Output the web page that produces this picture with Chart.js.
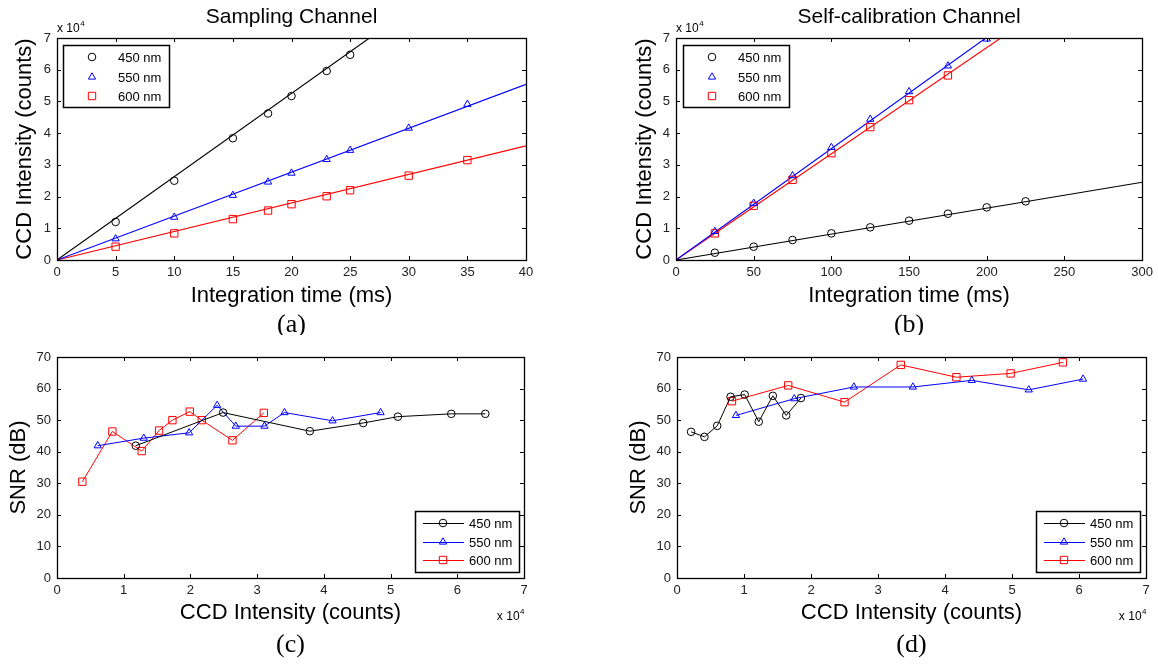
<!DOCTYPE html>
<html>
<head>
<meta charset="utf-8">
<script src="https://cdn.jsdelivr.net/npm/chart.js@4.4.1/dist/chart.umd.min.js"></script>
<style>
  body { margin: 0; background: #fff; width: 1158px; height: 664px; position: relative; overflow: hidden; }
  canvas { position: absolute; }
</style>
</head>
<body>
<canvas id="chartA" width="579" height="335" style="left:0;top:0"></canvas>
<canvas id="chartB" width="579" height="335" style="left:579px;top:0"></canvas>
<canvas id="chartC" width="579" height="329" style="left:0;top:335px"></canvas>
<canvas id="chartD" width="579" height="329" style="left:579px;top:335px"></canvas>
<script>
// ---- data (counts in units of 1e4, as on the axes) ----
var seriesNames = ['450 nm', '550 nm', '600 nm'];

// (a) Sampling channel: integration time (ms) vs CCD intensity
var timeA450 = [5, 10, 15, 18, 20, 23, 25];
var countsA450 = [1.2, 2.5, 3.84, 4.62, 5.17, 5.96, 6.47];
var timeA = [5, 10, 15, 18, 20, 23, 25, 30, 35];
var countsA550 = [0.67, 1.35, 2.04, 2.46, 2.74, 3.17, 3.46, 4.16, 4.91];
var countsA600 = [0.42, 0.84, 1.29, 1.56, 1.76, 2.01, 2.2, 2.66, 3.15];
var fitTimeA = [[0, 26.65], [0, 40], [0, 40]];
var fitCountsA = [[0, 7], [0, 5.54], [0, 3.6]];

// (b) Self-calibration channel
var timeB450 = [25, 50, 75, 100, 125, 150, 175, 200, 225];
var countsB450 = [0.23, 0.42, 0.63, 0.84, 1.03, 1.24, 1.46, 1.66, 1.85];
var timeB550 = [25, 50, 75, 100, 125, 150, 175, 200];
var countsB550 = [0.9, 1.79, 2.66, 3.55, 4.44, 5.31, 6.12, 6.97];
var timeB600 = [25, 50, 75, 100, 125, 150, 175];
var countsB600 = [0.84, 1.71, 2.53, 3.37, 4.19, 5.04, 5.82];
var fitTimeB = [[0, 300], [0, 199.4], [0, 209]];
var fitCountsB = [[0, 2.45], [0, 7], [0, 7]];

// (c) SNR vs intensity, sampling channel
var intC450 = [1.18, 2.49, 3.79, 4.59, 5.11, 5.91, 6.42];
var snrC450 = [41.9, 52.4, 46.5, 49.1, 51.1, 52.0, 52.0];
var intC550 = [0.61, 1.30, 1.98, 2.40, 2.68, 3.11, 3.41, 4.13, 4.85];
var snrC550 = [41.9, 44.3, 46.0, 54.7, 48.1, 48.1, 52.4, 49.8, 52.4];
var intC600 = [0.38, 0.83, 1.27, 1.53, 1.73, 1.99, 2.17, 2.63, 3.10];
var snrC600 = [30.5, 46.4, 40.2, 46.7, 50.0, 52.7, 50.0, 43.6, 52.3];

// (d) SNR vs intensity, self-calibration channel
var intD450 = [0.21, 0.41, 0.60, 0.80, 1.01, 1.22, 1.43, 1.63, 1.85];
var snrD450 = [46.3, 44.7, 48.2, 57.4, 58.1, 49.5, 57.7, 51.5, 57.0];
var intD550 = [0.88, 1.75, 2.64, 3.52, 4.40, 5.25, 6.06];
var snrD550 = [51.5, 56.8, 60.5, 60.5, 62.6, 59.6, 63.0];
var intD600 = [0.82, 1.66, 2.50, 3.34, 4.17, 4.98, 5.76];
var snrD600 = [56.0, 61.0, 55.7, 67.5, 63.6, 64.8, 68.3];

// ---- styling ----
var colors = ['#000000', '#0000ff', '#ff0000'];
var shapes = ['circle', 'triangle', 'rect'];
var radii = [3.8, 4.2, 5.2];
var sans = 'Arial, "Liberation Sans", sans-serif';

function zip(xs, ys) {
    return xs.map(function (x, i) { return { x: x, y: ys[i] }; });
}

function markerSet(i, xs, ys, withLine) {
    return {
        label: seriesNames[i],
        data: zip(xs, ys),
        showLine: withLine,
        borderColor: colors[i],
        borderWidth: 1,
        backgroundColor: 'rgba(0,0,0,0)',
        pointStyle: shapes[i],
        pointRadius: radii[i],
        pointBorderColor: colors[i],
        pointBorderWidth: 1,
        pointBackgroundColor: 'rgba(0,0,0,0)',
        order: 1
    };
}

function fitSet(i, xs, ys) {
    return {
        label: seriesNames[i] + ' fit',
        fit: true,
        data: zip(xs, ys),
        showLine: true,
        borderColor: colors[i],
        borderWidth: 1.1,
        pointRadius: 0,
        order: 2
    };
}

function drawMarker(ctx, shape, x, y, r, color) {
    ctx.strokeStyle = color;
    ctx.lineWidth = 1;
    ctx.beginPath();
    if (shape === 'circle') {
        ctx.arc(x, y, r, 0, Math.PI * 2);
    } else if (shape === 'triangle') {
        ctx.moveTo(x, y - r);
        ctx.lineTo(x + r * 0.866, y + r * 0.5);
        ctx.lineTo(x - r * 0.866, y + r * 0.5);
        ctx.closePath();
    } else {
        var s = r * Math.SQRT1_2;
        ctx.rect(x - s, y - s, 2 * s, 2 * s);
    }
    ctx.stroke();
}

// box, inward ticks, titles, exponent, caption, legend
var panelText = {
    id: 'panelText',
    afterDraw: function (chart, args, o) {
        var ctx = chart.ctx, a = chart.chartArea;
        var xs = chart.scales.x, ys = chart.scales.y;
        ctx.save();
        ctx.strokeStyle = '#000';
        ctx.lineWidth = 1;
        ctx.beginPath();
        xs.ticks.forEach(function (t) {
            var px = Math.round(xs.getPixelForValue(t.value)) + 0.5;
            ctx.moveTo(px, a.bottom); ctx.lineTo(px, a.bottom - 4);
            ctx.moveTo(px, a.top); ctx.lineTo(px, a.top + 4);
        });
        ys.ticks.forEach(function (t) {
            var py = Math.round(ys.getPixelForValue(t.value)) + 0.5;
            ctx.moveTo(a.left, py); ctx.lineTo(a.left + 4, py);
            ctx.moveTo(a.right, py); ctx.lineTo(a.right - 4, py);
        });
        ctx.stroke();
        ctx.lineWidth = 1.3;
        ctx.strokeRect(Math.round(a.left) + 0.5, Math.round(a.top) + 0.5,
            Math.round(a.right - a.left), Math.round(a.bottom - a.top));

        ctx.fillStyle = '#000';
        ctx.textBaseline = 'middle';
        ctx.textAlign = 'center';
        var cx = (a.left + a.right) / 2;
        if (o.title) {
            ctx.font = '21px ' + sans;
            ctx.fillText(o.title, cx, 17);
        }
        ctx.font = '22px ' + sans;
        ctx.fillText(o.xTitle, cx, o.xTitleY);
        ctx.save();
        ctx.translate(o.yTitleX, (a.top + a.bottom) / 2);
        ctx.rotate(-Math.PI / 2);
        ctx.fillText(o.yTitle, 0, 0);
        ctx.restore();

        // exponent label
        ctx.textBaseline = 'alphabetic';
        ctx.font = '12px ' + sans;
        var baseW = ctx.measureText('x 10').width;
        ctx.font = '8px ' + sans;
        var supW = ctx.measureText('4').width;
        var ex = o.expAlign === 'right' ? a.right - baseW - supW : a.left;
        ctx.textAlign = 'left';
        ctx.font = '12px ' + sans;
        ctx.fillText('x 10', ex, o.expY);
        ctx.font = '8px ' + sans;
        ctx.fillText('4', ex + baseW + 0.5, o.expY - 6);

        // caption
        ctx.textAlign = 'center';
        ctx.textBaseline = 'middle';
        ctx.font = '26px "Liberation Serif", "DejaVu Serif", serif';
        ctx.fillText(o.caption, cx, o.captionY);

        // legend
        var L = o.legend;
        var items = chart.data.datasets.filter(function (d) { return !d.fit; });
        ctx.fillStyle = '#fff';
        ctx.fillRect(L.x, L.y, L.w, L.h);
        ctx.lineWidth = 1.5;
        ctx.strokeStyle = '#000';
        ctx.strokeRect(L.x + 0.5, L.y + 0.5, L.w, L.h);
        ctx.font = '13px ' + sans;
        ctx.textAlign = 'left';
        items.forEach(function (d, i) {
            var ry = L.y + L.rows[i];
            if (L.line) {
                ctx.strokeStyle = d.borderColor;
                ctx.lineWidth = 1;
                ctx.beginPath();
                ctx.moveTo(L.x + L.lineX0, ry + 0.5);
                ctx.lineTo(L.x + L.lineX1, ry + 0.5);
                ctx.stroke();
            }
            drawMarker(ctx, d.pointStyle, L.x + L.markX, ry, d.pointRadius, d.borderColor);
            ctx.fillStyle = '#000';
            ctx.fillText(d.label, L.x + L.textX, ry + 1);
        });
        ctx.restore();
    }
};

function makeChart(id, datasets, xMax, xStep, yMax, yStep, pad, yWidth, xHeight, text) {
    return new Chart(document.getElementById(id), {
        type: 'scatter',
        data: { datasets: datasets },
        options: {
            responsive: false,
            animation: false,
            devicePixelRatio: 1,
            layout: { padding: pad },
            plugins: {
                legend: { display: false },
                tooltip: { enabled: false },
                panelText: text
            },
            scales: {
                x: {
                    type: 'linear', min: 0, max: xMax,
                    grid: { display: false, drawTicks: false }, border: { display: false },
                    ticks: { stepSize: xStep, padding: 5, color: '#222', font: { size: 13, family: sans } },
                    afterFit: function (s) { s.height = xHeight; }
                },
                y: {
                    type: 'linear', min: 0, max: yMax,
                    grid: { display: false, drawTicks: false }, border: { display: false },
                    ticks: { stepSize: yStep, padding: 6, color: '#222', font: { size: 13, family: sans } },
                    afterFit: function (s) { s.width = yWidth; }
                }
            }
        },
        plugins: [panelText]
    });
}

var topLegend = { w: 106, h: 62, rows: [12, 32, 51], markX: 29, textX: 55, line: false };
var botLegend = { w: 104, h: 61, rows: [12, 31, 49], line: true, lineX0: 8, lineX1: 49, markX: 28, textX: 54 };

makeChart('chartA', [
    fitSet(0, fitTimeA[0], fitCountsA[0]), fitSet(1, fitTimeA[1], fitCountsA[1]), fitSet(2, fitTimeA[2], fitCountsA[2]),
    markerSet(0, timeA450, countsA450, false), markerSet(1, timeA, countsA550, false), markerSet(2, timeA, countsA600, false)
], 40, 5, 7, 1, { top: 38, right: 53, left: 0, bottom: 0 }, 57, 75, {
    title: 'Sampling Channel', xTitle: 'Integration time (ms)', xTitleY: 296,
    yTitle: 'CCD Intensity (counts)', yTitleX: 25, expAlign: 'left', expY: 32,
    caption: '(a)', captionY: 325,
    legend: Object.assign({ x: 63, y: 45 }, topLegend)
});

makeChart('chartB', [
    fitSet(0, fitTimeB[0], fitCountsB[0]), fitSet(1, fitTimeB[1], fitCountsB[1]), fitSet(2, fitTimeB[2], fitCountsB[2]),
    markerSet(0, timeB450, countsB450, false), markerSet(1, timeB550, countsB550, false), markerSet(2, timeB600, countsB600, false)
], 300, 50, 7, 1, { top: 38, right: 11, left: 0, bottom: 0 }, 97, 75, {
    title: 'Self-calibration Channel', xTitle: 'Integration time (ms)', xTitleY: 296,
    yTitle: 'CCD Intensity (counts)', yTitleX: 66, expAlign: 'left', expY: 32,
    caption: '(b)', captionY: 325,
    legend: Object.assign({ x: 104, y: 45 }, topLegend)
});

makeChart('chartC', [
    markerSet(0, intC450, snrC450, true), markerSet(1, intC550, snrC550, true), markerSet(2, intC600, snrC600, true)
], 7, 1, 70, 10, { top: 22, right: 55, left: 0, bottom: 0 }, 57, 86, {
    xTitle: 'CCD Intensity (counts)', xTitleY: 278,
    yTitle: 'SNR (dB)', yTitleX: 19, expAlign: 'right', expY: 285,
    caption: '(c)', captionY: 310,
    legend: Object.assign({ x: 415, y: 176 }, botLegend)
});

makeChart('chartD', [
    markerSet(0, intD450, snrD450, true), markerSet(1, intD550, snrD550, true), markerSet(2, intD600, snrD600, true)
], 7, 1, 70, 10, { top: 22, right: 12, left: 0, bottom: 0 }, 98, 86, {
    xTitle: 'CCD Intensity (counts)', xTitleY: 278,
    yTitle: 'SNR (dB)', yTitleX: 60, expAlign: 'right', expY: 285,
    caption: '(d)', captionY: 310,
    legend: Object.assign({ x: 457, y: 176 }, botLegend)
});
</script>
</body>
</html>
